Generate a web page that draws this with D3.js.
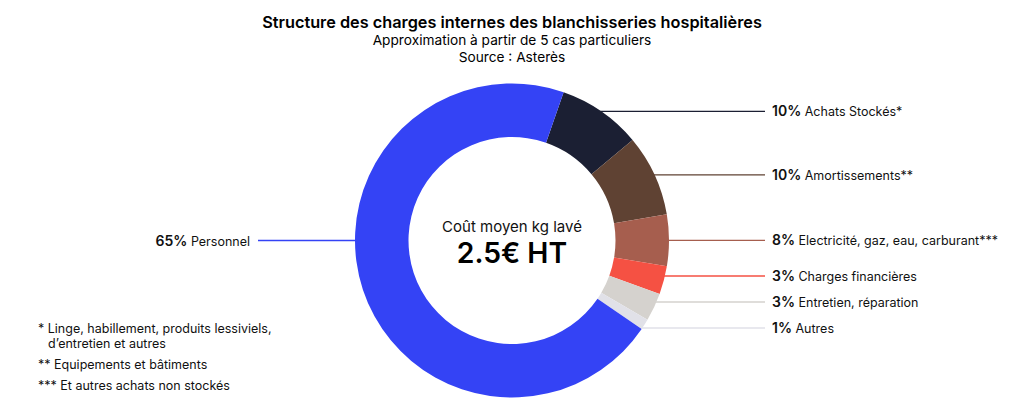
<!DOCTYPE html>
<html>
<head>
<meta charset="utf-8">
<script src="https://cdn.jsdelivr.net/npm/d3@7"></script>
<style>
	html, body { margin: 0; padding: 0; background: #fff; }
	svg { display: block; font-family: Inter, "Noto Sans", sans-serif; }
</style>
</head>
<body>
<div id="chart"></div>
<script>
(function () {
	// Postes de charges (ordre horaire à partir du haut)
	const categories = ["Achats Stockés*", "Amortissements**", "Electricité, gaz, eau, carburant***",
		"Charges financières", "Entretien, réparation", "Autres", "Personnel"]
	// Pourcentages affichés dans les étiquettes
	const labelPercents = [10, 10, 8, 3, 3, 1, 65]
	// Parts angulaires (%)
	const shares = [8.6, 8.4, 5.3, 2.9, 2.9, 1.1, 70.8]
	const colors = ["#1b1f33", "#5f4233", "#a65e4e", "#f55143", "#d5d2ce", "#e1e1e8", "#3443f5"]

	const footnotes = [
		["*", "Linge, habillement, produits lessiviels,", "d\u2019entretien et autres"],
		["**", "Equipements et bâtiments"],
		["***", "Et autres achats non stockés"]
	]

	const width = 1024, height = 419
	const cx = 512, cy = 240.5
	const outerR = 157, innerR = 103.5
	const lineEnd = 765

	const svg = d3.select("#chart").append("svg")
		.attr("width", width)
		.attr("height", height)

	// Titres
	svg.append("text")
		.attr("x", cx).attr("y", 28)
		.attr("text-anchor", "middle")
		.style("font-size", "16.3px").style("font-weight", 600)
		.text("Structure des charges internes des blanchisseries hospitalières")
	svg.append("text")
		.attr("x", cx).attr("y", 44.5)
		.attr("text-anchor", "middle")
		.style("font-size", "13.7px")
		.text("Approximation à partir de 5 cas particuliers")
	svg.append("text")
		.attr("x", cx).attr("y", 61.5)
		.attr("text-anchor", "middle")
		.style("font-size", "13.7px")
		.text("Source : Asterès")

	const data = categories.map((c, i) => ({ name: c, pct: labelPercents[i], share: shares[i], color: colors[i] }))

	const startA = 19.2 * Math.PI / 180
	const pie = d3.pie()
		.sort(null)
		.value(d => d.share)
		.startAngle(startA)
		.endAngle(startA + 2 * Math.PI)
	const arcs = pie(data)

	const arc = d3.arc().innerRadius(innerR).outerRadius(outerR)

	const g = svg.append("g").attr("transform", `translate(${cx},${cy})`)

	g.selectAll("path.slice")
		.data(arcs)
		.enter().append("path")
		.attr("class", "slice")
		.attr("d", arc)
		.attr("fill", d => d.data.color)

	// Position des étiquettes : milieu de l'arc, puis écartement
	arcs.forEach(a => {
		const mid = (a.startAngle + a.endAngle) / 2
		a.right = Math.sin(mid) > 0
		a.ly = a.right ? -Math.cos(mid) * outerR : 0
	})
	const right = arcs.filter(a => a.right).sort((a, b) => a.ly - b.ly)
	const gap = 26
	for (let k = 0; k < 200; k++) {
		let moved = false
		for (let i = 1; i < right.length; i++) {
			const d = right[i].ly - right[i - 1].ly
			if (d < gap - 0.01) {
				const s = (gap - d) / 2
				right[i].ly += s
				right[i - 1].ly -= s
				moved = true
			}
		}
		if (!moved) break
	}
	// léger décalage vers le haut du groupe du bas
	right.forEach((a, i) => { if (i >= 3) a.ly -= 2 })

	const labels = g.selectAll("g.label")
		.data(arcs)
		.enter().append("g")
		.attr("class", "label")

	labels.append("line")
		.attr("x1", d => {
			const x = Math.sqrt(Math.max(0, outerR * outerR - d.ly * d.ly))
			return d.right ? x - 1 : -x + 1
		})
		.attr("x2", d => d.right ? lineEnd - cx : 258 - cx)
		.attr("y1", d => d.ly)
		.attr("y2", d => d.ly)
		.attr("stroke", d => d.data.color)
		.attr("stroke-width", 1.3)

	const lt = labels.append("text")
		.attr("x", d => d.right ? lineEnd - cx + 7 : 250 - cx)
		.attr("y", d => d.ly + 5)
		.attr("text-anchor", d => d.right ? "start" : "end")
		.style("fill", "#111")
	lt.append("tspan")
		.style("font-size", "14px").style("font-weight", 600)
		.text(d => d.data.pct + "%")
	lt.append("tspan")
		.style("font-size", "12.5px")
		.text(d => "\u00a0" + d.data.name)

	// Centre
	g.append("text")
		.attr("y", -9)
		.attr("text-anchor", "middle")
		.style("font-size", "15px")
		.style("fill", "#111")
		.text("Coût moyen kg lavé")
	g.append("text")
		.attr("y", 22)
		.attr("text-anchor", "middle")
		.style("font-size", "28.3px").style("font-weight", 600)
		.style("fill", "#000")
		.text("2.5€ HT")

	// Notes
	const notes = svg.append("g").style("font-size", "12.5px").style("fill", "#111")
	let ny = 333
	footnotes.forEach(f => {
		notes.append("text").attr("x", 38).attr("y", ny).text(f[0] + "\u00a0" + f[1])
		if (f[2]) {
			ny += 15
			notes.append("text").attr("x", 48).attr("y", ny).text(f[2])
		}
		ny += 21
	})
})()
</script>
</body>
</html>
